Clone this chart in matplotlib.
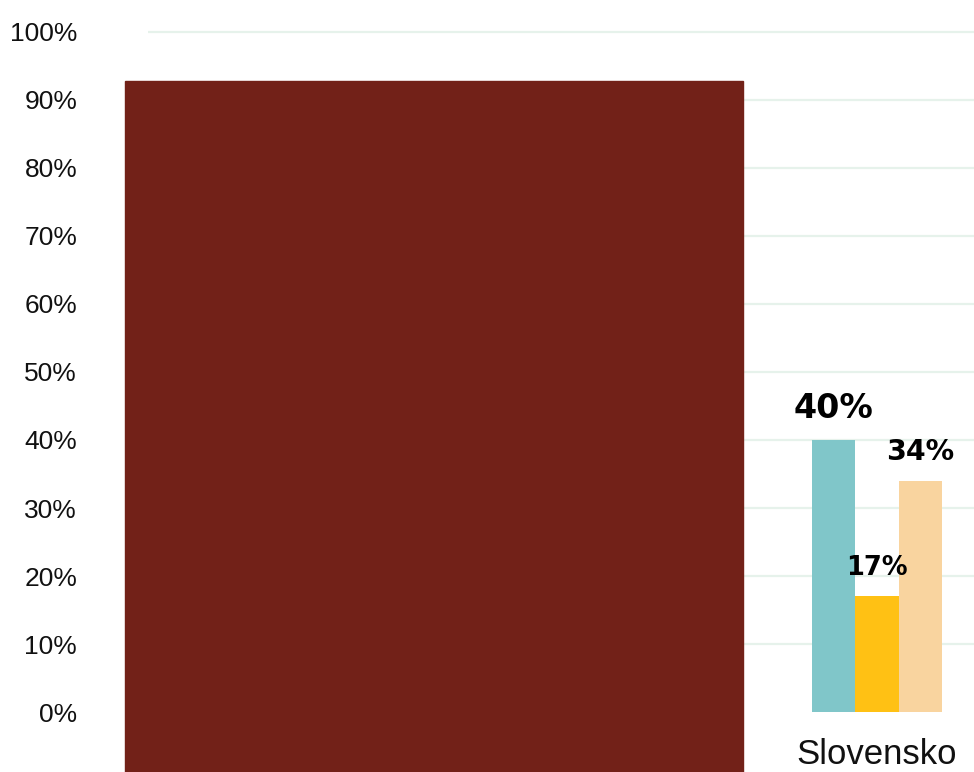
import numpy as np
import matplotlib
matplotlib.use('Agg')
import matplotlib.pyplot as plt
from matplotlib.patches import Rectangle

# data
country = 'Slovensko'
values = [40, 17, 34]
colors = ['#80c6c9', '#ffc114', '#f9d49f']
ticks = list(range(0, 101, 10))
tick_labels = ['%d%%' % t for t in ticks]

fig = plt.figure(figsize=(9.74, 7.72), dpi=100)
ax = fig.add_axes([148 / 974, 0, 1 - 148 / 974, 1])

w = 0.28
x = np.array([-w, 0, w])
bars = ax.bar(x, values, width=w, color=colors, zorder=2)

sizes = [24, 18.5, 20.5]
for b, v, s in zip(bars, values, sizes):
    ax.annotate('%d%%' % v, (b.get_x() + b.get_width() / 2, v),
                xytext=(0, 11), textcoords='offset points',
                ha='center', va='bottom', fontsize=s, fontweight='bold',
                family='DejaVu Sans', color='black', zorder=3)

ax.set_xlim(-4.69, 0.624)
ax.set_ylim(-8.82, 104.7)
ax.set_yticks(ticks)
ax.set_yticklabels(tick_labels, family='Liberation Sans', fontsize=19, color='#111111')
ax.tick_params(axis='y', length=0, pad=51)
ax.set_xticks([])
for s in ax.spines.values():
    s.set_visible(False)
ax.yaxis.grid(True, color='#e6f2eb', linewidth=1.6, zorder=0)
ax.set_axisbelow(True)
ax.get_ygridlines()[0].set_visible(False)

# category label
ax.text(0, -6.2, country, ha='center', va='center', fontsize=25,
        family='Liberation Sans', color='#111111')

# dark block covering the left part
fig.patches.append(Rectangle((125 / 974, 0), 618 / 974, (772 - 81) / 772,
                             transform=fig.transFigure, color='#722118', zorder=5))

fig.savefig('out.png', dpi=100)
